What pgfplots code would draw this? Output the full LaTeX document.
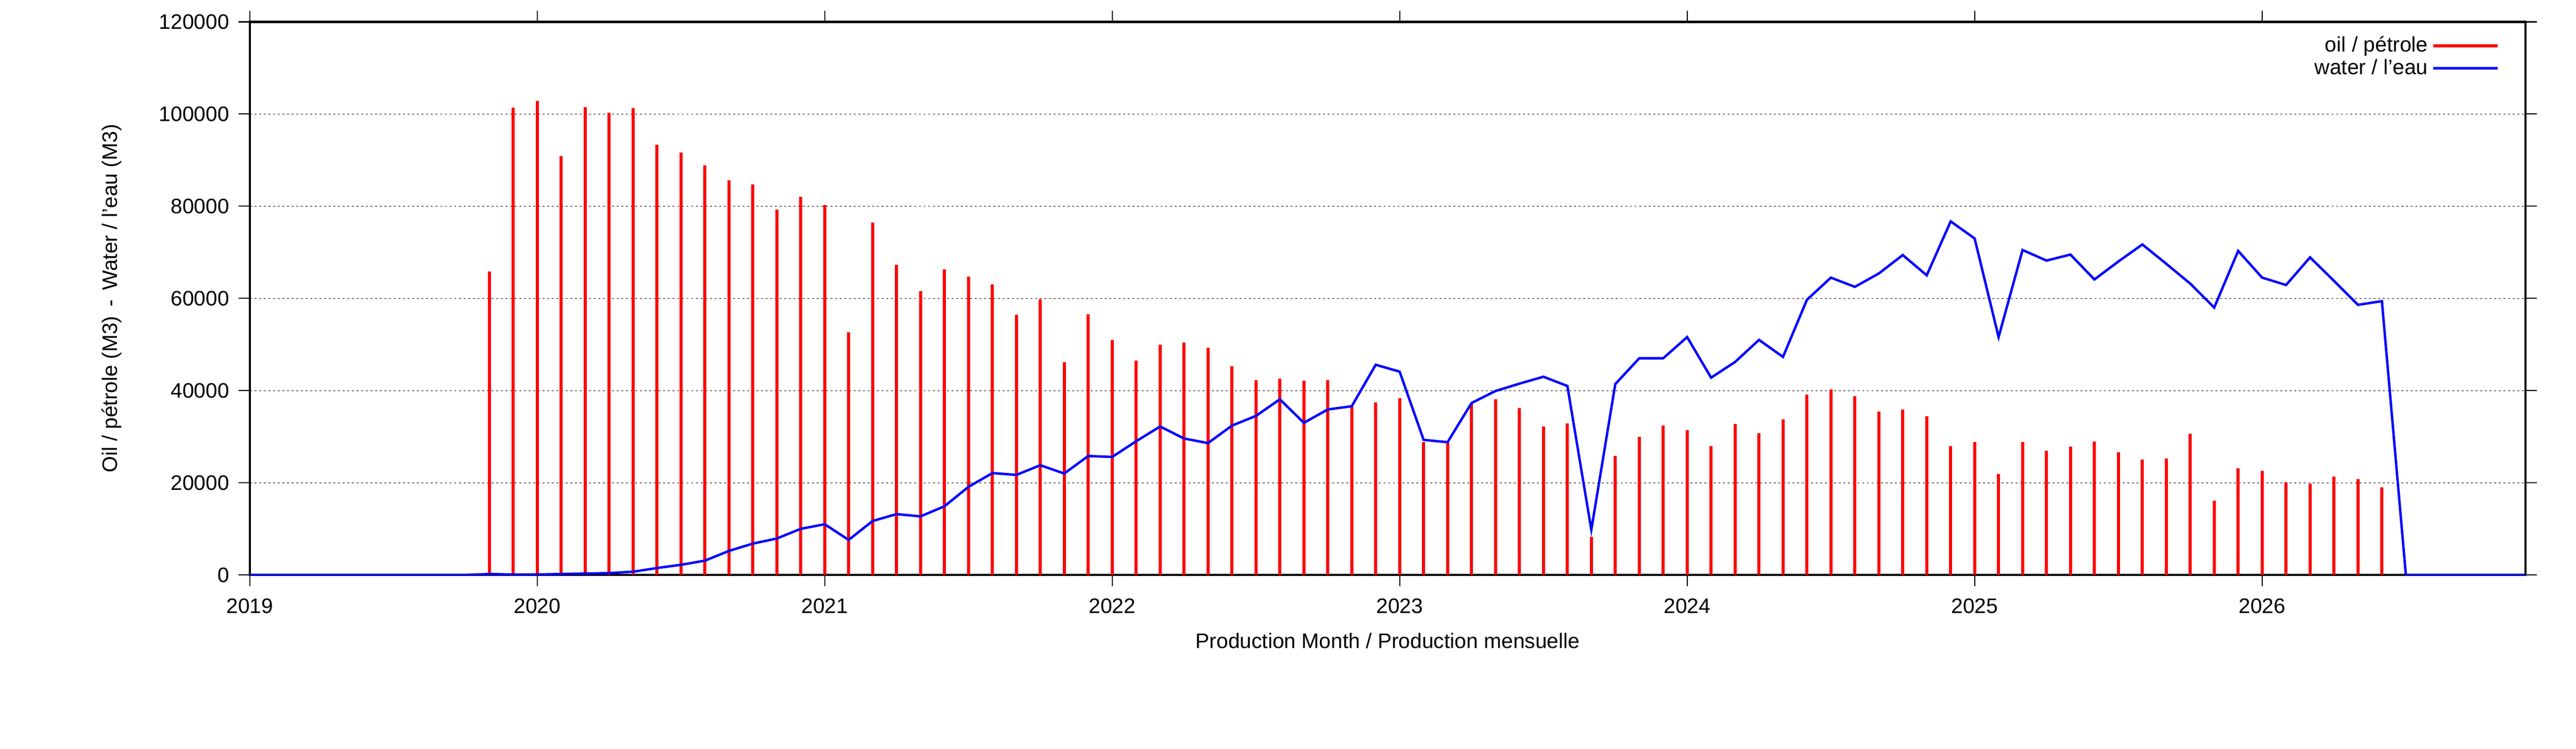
\documentclass[border=0pt]{standalone}
\usepackage{pgfplots}
\pgfplotsset{compat=1.18}
\usepackage{fontspec}
\setmainfont{Liberation Sans}
\pgfplotstableread{
m oil water
0 0 0
1 0 0
2 0 0
3 0 0
4 0 0
5 0 0
6 0 0
7 0 0
8 0 0
9 0 0
10 65800 200
11 101400 100
12 102800 100
13 90900 200
14 101500 300
15 100300 400
16 101300 700
17 93300 1500
18 91600 2200
19 88900 3100
20 85600 5200
21 84700 6800
22 79300 7900
23 82000 10000
24 80300 11000
25 52700 7600
26 76500 11700
27 67300 13200
28 61600 12700
29 66300 14900
30 64700 19100
31 63000 22100
32 56500 21700
33 59800 23800
34 46200 22000
35 56600 25800
36 51000 25600
37 46500 29000
38 50000 32200
39 50400 29600
40 49300 28600
41 45300 32400
42 42200 34500
43 42600 38100
44 42100 33000
45 42200 35900
46 36500 36600
47 37400 45600
48 38300 44100
49 28900 29300
50 28700 28800
51 37200 37300
52 38100 39900
53 36200 41500
54 32200 43000
55 32900 41000
56 8300 9800
57 25800 41400
58 30000 47000
59 32400 47000
60 31400 51600
61 27900 42800
62 32800 46200
63 30800 51000
64 33800 47300
65 39100 59700
66 40200 64500
67 38800 62500
68 35400 65400
69 35900 69400
70 34400 65000
71 28000 76700
72 28900 73000
73 21900 51600
74 28900 70500
75 26900 68200
76 27800 69500
77 29000 64100
78 26600 68000
79 25000 71700
80 25300 67500
81 30600 63200
82 16100 58000
83 23100 70300
84 22600 64500
85 20100 62900
86 19800 68900
87 21400 63800
88 20800 58600
89 19000 59400
90 0 0
91 0 0
92 0 0
93 0 0
94 0 0
95 0 0
}\prod
\begin{document}
\fontsize{10.4}{12}\selectfont
\begin{tikzpicture}
\path[use as bounding box] (-123.6pt,-86.1pt) rectangle (1151.4pt,284.6pt);
\begin{axis}[
  at={(0pt,0pt)}, anchor=south west,
  scale only axis, width=1126.6pt, height=273.8pt,
  xmin=0, xmax=95, ymin=0, ymax=120000,
  xtick={0,12,24,36,48,60,72,84},
  xticklabels={2019,2020,2021,2022,2023,2024,2025,2026},
  ytick={0,20000,40000,60000,80000,100000,120000},
  yticklabels={0,20000,40000,60000,80000,100000,120000},
  scaled ticks=false,
  tick align=outside, major tick length=5.5pt,
  tick style={black, line width=0.6pt},
  axis line style={line width=1.1pt},
  ymajorgrids,
  grid style={black, line width=0.3pt, dash pattern=on 1pt off 1.3pt},
  xlabel={Production Month / Production mensuelle},
  ylabel={Oil / pétrole (M3)  \,-\,  Water / l’eau (M3)},
  xticklabel style={yshift=-2.6pt},
  yticklabel style={xshift=-1pt},
  xlabel style={yshift=-2.4pt},
  ylabel style={yshift=11.5pt},
  legend style={at={(1,1)}, anchor=north east, xshift=-10pt, yshift=-3pt,
    draw=none, fill=none, legend plot pos=right, legend cell align=right,
    row sep=-2pt},
]
\addplot[ycomb, red, line width=1.5pt, mark=none,
  legend image code/.code={\draw[red, line width=1.5pt] (0pt,0pt) -- (31.7pt,0pt);}]
  table[x=m, y=oil] {\prod};
\addlegendentry{oil / pétrole}
\addplot[blue, line width=1.2pt, mark=none,
  legend image code/.code={\draw[blue, line width=1.2pt] (0pt,0pt) -- (31.7pt,0pt);}]
  table[x=m, y=water] {\prod};
\addlegendentry{water / l’eau}
\end{axis}
\end{tikzpicture}
\end{document}
